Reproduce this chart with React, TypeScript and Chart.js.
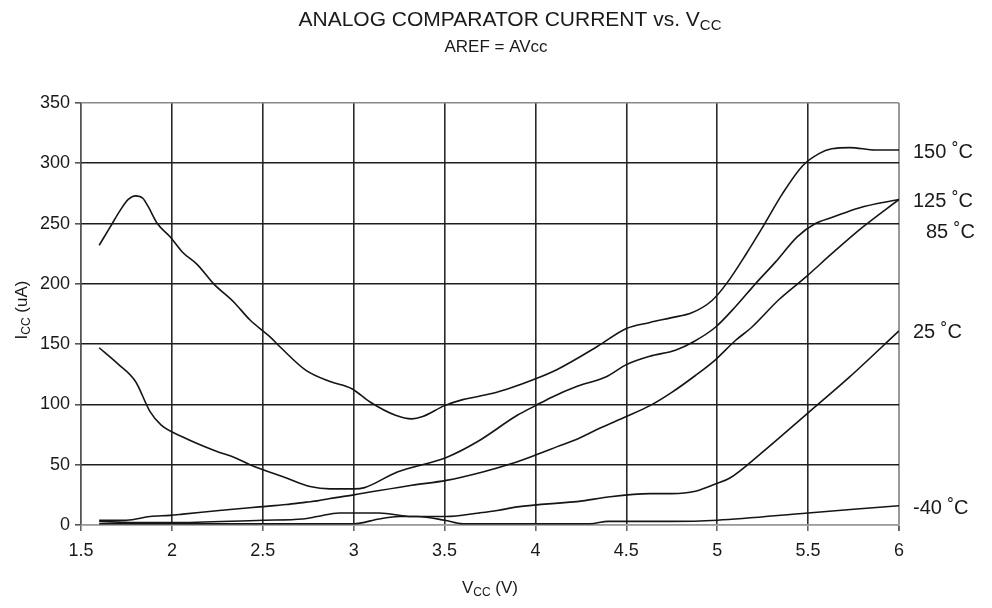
import React, { useEffect, useRef } from "react";
import { Chart, registerables } from "chart.js";

Chart.register(...registerables);

const FONT = "'Liberation Sans', Arial, Helvetica, sans-serif";

// ---- data ----
const titleMain = "ANALOG COMPARATOR CURRENT vs. V";
const titleSub = "CC";
const subtitle = "AREF = AVcc";
const xTitleMain = "V";
const xTitleSub = "CC";
const xTitleTail = " (V)";
const yTitleMain = "I";
const yTitleSub = "CC";
const yTitleTail = " (uA)";

const seriesNames = ["150 ˚C", "125 ˚C", "85 ˚C", "25 ˚C", "-40 ˚C"];

const v150 = [1.6, 1.66, 1.72, 1.76, 1.8, 1.84, 1.87, 1.92, 1.99, 2.06, 2.14, 2.23, 2.34, 2.43, 2.54, 2.6, 2.74, 2.87, 2.99, 3.09, 3.23, 3.32, 3.38, 3.5, 3.6, 3.76, 3.87, 3.98, 4.12, 4.34, 4.5, 4.63, 4.75, 4.86, 4.97, 5.05, 5.16, 5.25, 5.36, 5.47, 5.56, 5.63, 5.73, 5.87, 6.0];
const i150 = [232, 247, 262, 270, 273, 271, 264, 250, 239, 226, 216, 200, 185, 170, 156, 147, 128, 119, 113, 102, 91, 88, 90, 99, 104, 109, 114, 120, 129, 148, 163, 168, 172, 176, 186, 200, 225, 247, 275, 298, 308, 312, 313, 311, 311];

const v125 = [1.6, 1.7, 1.8, 1.88, 1.94, 2.06, 2.23, 2.36, 2.43, 2.63, 2.76, 2.87, 3.0, 3.06, 3.24, 3.51, 3.68, 3.9, 4.0, 4.09, 4.23, 4.39, 4.5, 4.63, 4.77, 4.87, 4.99, 5.1, 5.21, 5.32, 5.44, 5.54, 5.63, 5.78, 6.0];
const i125 = [147, 134, 119, 94, 83, 73, 62, 55, 50, 39, 32, 30, 30, 31, 44, 56, 69, 91, 99, 106, 115, 123, 133, 140, 145, 152, 164, 181, 200, 218, 239, 250, 255, 263, 270];

const v85 = [1.6, 1.75, 1.88, 1.99, 2.06, 2.26, 2.48, 2.63, 2.74, 2.8, 2.87, 3.0, 3.32, 3.51, 3.71, 3.87, 4.0, 4.12, 4.24, 4.35, 4.5, 4.63, 4.75, 4.88, 4.99, 5.1, 5.19, 5.34, 5.49, 5.63, 5.8, 6.0];
const i85 = [4, 4, 7, 8, 9, 12, 15, 17, 19, 20, 22, 25, 33, 37, 44, 51, 58, 65, 72, 80, 90, 99, 110, 124, 137, 153, 164, 187, 206, 225, 247, 270];

const v25 = [1.6, 1.8, 2.0, 2.5, 2.72, 2.8, 2.92, 3.14, 3.32, 3.51, 3.69, 3.79, 3.9, 4.26, 4.39, 4.63, 4.75, 4.88, 4.99, 5.07, 5.23, 5.5, 5.73, 6.0];
const i25 = [3, 2, 2, 4, 5, 7, 10, 10, 7, 7, 10, 12, 15, 20, 23, 26, 26, 28, 34, 39, 58, 93, 123, 161];

const vM40 = [1.6, 2.0, 2.5, 3.0, 3.14, 3.25, 3.35, 3.5, 3.6, 4.0, 4.3, 4.4, 4.75, 5.0, 5.5, 6.0];
const iM40 = [1, 1, 1, 1, 5, 7, 7, 4, 1, 1, 1, 3, 3, 4, 10, 16];

// value (uA) on the y scale where each right-hand series label is centred
const labelValues = [309, 268, 243, 160, 14];
const labelIndent = [0, 0, 13, 0, 0];

const xMin = 1.5;
const xMax = 6;
const xStep = 0.5;
const yMin = 0;
const yMax = 350;
const yStep = 50;

function pts(xs: number[], ys: number[]) {
  return xs.map((x, i) => ({ x, y: ys[i] }));
}

function drawSub(
  ctx: CanvasRenderingContext2D,
  main: string,
  sub: string,
  tail: string,
  cx: number,
  cy: number,
  size: number
) {
  const subSize = Math.round(size * 0.72);
  ctx.font = `${size}px ${FONT}`;
  const wMain = ctx.measureText(main).width;
  const wTail = ctx.measureText(tail).width;
  ctx.font = `${subSize}px ${FONT}`;
  const wSub = ctx.measureText(sub).width;
  const total = wMain + wSub + wTail;
  let x = cx - total / 2;
  ctx.textAlign = "left";
  ctx.textBaseline = "middle";
  ctx.font = `${size}px ${FONT}`;
  ctx.fillText(main, x, cy);
  x += wMain;
  ctx.font = `${subSize}px ${FONT}`;
  ctx.fillText(sub, x, cy + size * 0.3);
  x += wSub;
  ctx.font = `${size}px ${FONT}`;
  ctx.fillText(tail, x, cy);
}

const textPlugin = {
  id: "customTexts",
  afterDraw(chart: any) {
    const ctx: CanvasRenderingContext2D = chart.ctx;
    const { left, right, top, bottom } = chart.chartArea;
    const yScale = chart.scales.y;
    ctx.save();
    ctx.fillStyle = "#1a1a1a";
    const cx = (left + right) / 2;
    drawSub(ctx, titleMain, titleSub, "", cx + 20, 20, 21);
    ctx.font = `17px ${FONT}`;
    ctx.textAlign = "center";
    ctx.textBaseline = "middle";
    ctx.fillText(subtitle, cx + 6, 47);
    drawSub(ctx, xTitleMain, xTitleSub, xTitleTail, cx, 588, 17);
    ctx.save();
    ctx.translate(22, (top + bottom) / 2 - 4);
    ctx.rotate(-Math.PI / 2);
    drawSub(ctx, yTitleMain, yTitleSub, yTitleTail, 0, 0, 17);
    ctx.restore();
    ctx.font = `20px ${FONT}`;
    ctx.textAlign = "left";
    ctx.textBaseline = "middle";
    seriesNames.forEach((name, i) => {
      ctx.fillText(name, right + 14 + labelIndent[i], yScale.getPixelForValue(labelValues[i]));
    });
    ctx.restore();
  },
};

export default function App() {
  const ref = useRef<HTMLCanvasElement | null>(null);
  useEffect(() => {
    if (!ref.current) return;
    const lineColor = "#151515";
    const sets = [
      pts(v150, i150),
      pts(v125, i125),
      pts(v85, i85),
      pts(v25, i25),
      pts(vM40, iM40),
    ];
    const chart = new Chart(ref.current, {
      type: "line",
      data: {
        datasets: sets.map((d, i) => ({
          label: seriesNames[i],
          data: d,
          borderColor: lineColor,
          borderWidth: 1.6,
          pointRadius: 0,
          fill: false,
          cubicInterpolationMode: "monotone" as const,
        })),
      },
      options: {
        animation: false,
        responsive: false,
        maintainAspectRatio: false,
        layout: { padding: { left: 0, top: 103, right: 93, bottom: 0 } },
        plugins: {
          legend: { display: false },
          title: { display: false },
          tooltip: { enabled: false },
        },
        scales: {
          x: {
            type: "linear",
            min: xMin,
            max: xMax,
            afterFit: (s: any) => {
              s.height = 83;
            },
            ticks: {
              stepSize: xStep,
              padding: 9,
              color: "#1a1a1a",
              font: { family: FONT, size: 18 },
              callback: (v: any) => String(v),
            },
            grid: {
              color: (c: any) => (c.tick && c.tick.value === xMax ? "#9a9a9a" : "#2a2a2a"),
              lineWidth: (c: any) => (c.tick && c.tick.value === xMax ? 2 : 1.6),
              tickLength: 6,
              tickColor: "#666",
            },
            border: { color: "#9a9a9a", width: 1.5 },
          },
          y: {
            type: "linear",
            min: yMin,
            max: yMax,
            afterFit: (s: any) => {
              s.width = 81;
            },
            ticks: {
              stepSize: yStep,
              padding: 5,
              color: "#1a1a1a",
              font: { family: FONT, size: 18 },
            },
            grid: {
              color: (c: any) =>
                c.tick && (c.tick.value === yMax || c.tick.value === yMin) ? "#8a8a8a" : "#1e1e1e",
              lineWidth: 1.6,
              tickLength: 6,
              tickColor: "#555",
            },
            border: { color: "#555", width: 1.2 },
          },
        },
      },
      plugins: [textPlugin],
    });
    return () => chart.destroy();
  }, []);
  return (
    <div style={{ position: "absolute", left: 0, top: 0, width: 992, height: 608, background: "#fff" }}>
      <canvas ref={ref} width={992} height={608} style={{ width: 992, height: 608, display: "block" }} />
    </div>
  );
}
